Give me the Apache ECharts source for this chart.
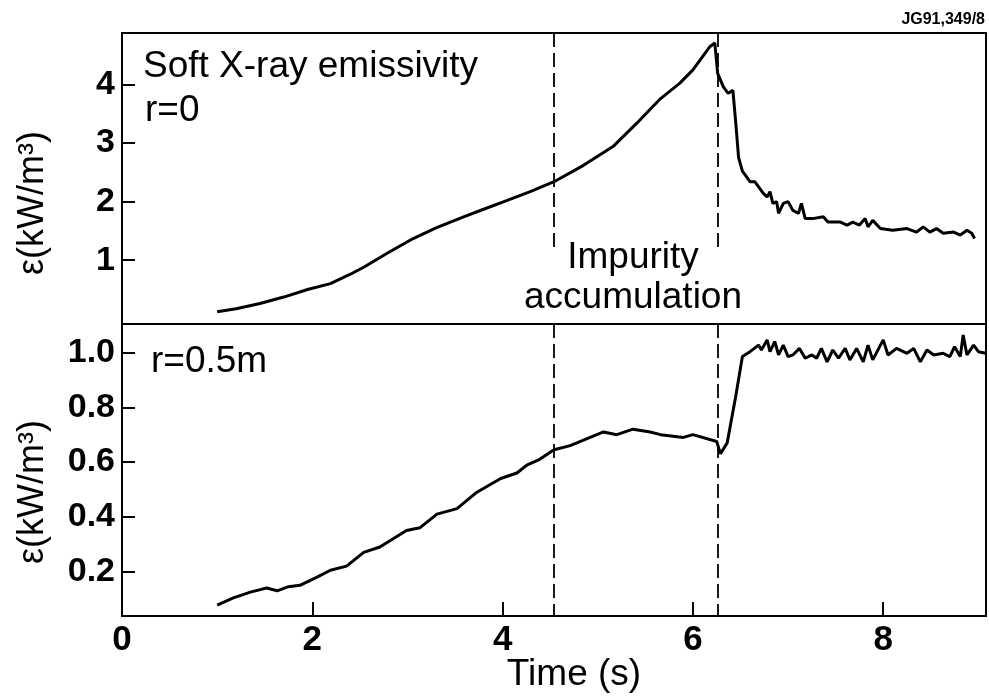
<!DOCTYPE html>
<html>
<head>
<meta charset="utf-8">
<script src="https://cdn.jsdelivr.net/npm/echarts@6/dist/echarts.min.js"></script>
<style>html,body{margin:0;padding:0;background:#fff}#c{width:989px;height:699px}</style>
</head>
<body>
<div id="c"></div>
<script>
// ---- data ----
const timeCore = [1.00,1.20,1.45,1.70,1.95,2.19,2.40,2.54,2.80,3.06,3.30,3.59,3.80,4.00,4.29,4.54,4.85,5.16,5.41,5.66,5.86,6.00,6.18,6.23,6.26,6.32,6.37,6.42,6.45,6.48,6.52,6.60,6.65,6.70,6.74,6.78,6.81,6.84,6.88,6.90,6.95,7.00,7.05,7.11,7.14,7.18,7.26,7.37,7.42,7.55,7.62,7.68,7.75,7.81,7.84,7.89,7.97,8.10,8.25,8.35,8.42,8.49,8.56,8.63,8.74,8.81,8.88,8.93,8.96];
const emisCore = [0.12,0.17,0.26,0.37,0.50,0.60,0.76,0.88,1.13,1.37,1.55,1.74,1.87,1.99,2.17,2.34,2.62,2.94,3.34,3.76,4.02,4.25,4.65,4.71,4.19,3.96,3.85,3.90,3.35,2.75,2.52,2.34,2.34,2.23,2.14,2.08,2.17,1.97,2.00,1.80,1.97,2.00,1.85,1.80,1.97,1.71,1.71,1.74,1.65,1.65,1.60,1.65,1.60,1.71,1.57,1.68,1.54,1.51,1.54,1.48,1.57,1.48,1.54,1.46,1.48,1.43,1.51,1.46,1.37];

const timeHalf = [1.00,1.17,1.35,1.52,1.63,1.75,1.87,2.05,2.19,2.36,2.54,2.71,2.85,2.99,3.13,3.31,3.52,3.73,3.98,4.15,4.26,4.39,4.54,4.71,4.92,5.06,5.20,5.37,5.55,5.66,5.90,6.00,6.25,6.29,6.36,6.45,6.52,6.60,6.69,6.72,6.78,6.81,6.86,6.90,6.95,7.00,7.05,7.12,7.18,7.25,7.30,7.35,7.41,7.47,7.53,7.60,7.65,7.72,7.79,7.84,7.89,8.00,8.05,8.14,8.25,8.32,8.39,8.46,8.53,8.63,8.70,8.75,8.81,8.84,8.88,8.95,9.00,9.08];
const emisHalf = [0.078,0.104,0.125,0.14,0.13,0.145,0.15,0.18,0.205,0.22,0.27,0.29,0.32,0.35,0.36,0.41,0.43,0.49,0.54,0.56,0.59,0.61,0.645,0.66,0.69,0.71,0.70,0.72,0.71,0.70,0.69,0.70,0.675,0.63,0.67,0.84,0.985,1.003,1.027,1.009,1.046,1.003,1.040,0.991,1.027,0.985,0.991,1.015,0.979,0.991,0.979,1.015,0.966,1.009,0.979,1.015,0.973,1.015,0.966,1.027,0.973,1.046,0.991,1.015,0.997,1.015,0.966,1.009,0.991,0.997,0.985,1.021,0.985,1.064,0.991,1.027,1.003,0.997];

const eventTimes = [4.54, 6.26];
const xTicks = [0, 2, 4, 6, 8];
const yTicksCore = [1, 2, 3, 4];
const yTicksHalf = [0.2, 0.4, 0.6, 0.8, 1.0];
const xRange = [0, 9.08];
const yRangeCore = [-0.09, 4.88];
const yRangeHalf = [0.038, 1.104];
const coreDashFrom = 1.2;

// ---- chart ----
const FONT = '"Liberation Sans", Arial, Helvetica, sans-serif';
const chart = echarts.init(document.getElementById('c'), null, {renderer: 'canvas'});
const pairs = (xs, ys) => xs.map((x, i) => [x, ys[i]]);
const dashStyle = {color: '#000', width: 1.8, type: [14, 6]};

const axisLineStyle = {show: true, onZero: false, lineStyle: {color: '#000', width: 2}};

const option = {
  animation: false,
  backgroundColor: '#fff',
  grid: [
    {left: 122, top: 33, width: 864, height: 291, show: true, borderColor: '#000', borderWidth: 2, backgroundColor: 'transparent'},
    {left: 122, top: 324, width: 864, height: 292, show: true, borderColor: '#000', borderWidth: 2, backgroundColor: 'transparent'}
  ],
  xAxis: [
    {gridIndex: 0, type: 'value', min: xRange[0], max: xRange[1], axisLine: axisLineStyle,
     axisTick: {show: false}, axisLabel: {show: false}, splitLine: {show: false}},
    {gridIndex: 1, type: 'value', min: xRange[0], max: xRange[1], axisLine: axisLineStyle,
     axisTick: {show: true, inside: true, length: 14, lineStyle: {color: '#000', width: 2}, customValues: xTicks.filter(v => v > 0)},
     axisLabel: {show: true, customValues: xTicks, color: '#000', fontSize: 35, fontWeight: 'bold', fontFamily: FONT, margin: 7},
     splitLine: {show: false}}
  ],
  yAxis: [
    {gridIndex: 0, type: 'value', min: yRangeCore[0], max: yRangeCore[1], axisLine: axisLineStyle,
     axisTick: {show: true, inside: true, length: 13, lineStyle: {color: '#000', width: 2}, customValues: yTicksCore},
     axisLabel: {show: true, customValues: yTicksCore, color: '#000', fontSize: 34, fontWeight: 'bold', fontFamily: FONT, margin: 7},
     splitLine: {show: false}},
    {gridIndex: 1, type: 'value', min: yRangeHalf[0], max: yRangeHalf[1], axisLine: axisLineStyle,
     axisTick: {show: true, inside: true, length: 13, lineStyle: {color: '#000', width: 2}, customValues: yTicksHalf},
     axisLabel: {show: true, customValues: yTicksHalf, formatter: v => v.toFixed(1), color: '#000', fontSize: 34, fontWeight: 'bold', fontFamily: FONT, margin: 7},
     splitLine: {show: false}}
  ],
  series: [
    {type: 'line', xAxisIndex: 0, yAxisIndex: 0, data: pairs(timeCore, emisCore), showSymbol: false, symbol: 'none',
     lineStyle: {color: '#000', width: 3}, silent: true,
     markLine: {silent: true, symbol: ['none', 'none'], label: {show: false}, lineStyle: dashStyle,
       data: eventTimes.map(t => [{coord: [t, yRangeCore[1]]}, {coord: [t, coreDashFrom]}])}},
    {type: 'line', xAxisIndex: 1, yAxisIndex: 1, data: pairs(timeHalf, emisHalf), showSymbol: false, symbol: 'none',
     lineStyle: {color: '#000', width: 3}, silent: true,
     markLine: {silent: true, symbol: ['none', 'none'], label: {show: false}, lineStyle: dashStyle,
       data: eventTimes.map(t => [{coord: [t, yRangeHalf[1]]}, {coord: [t, yRangeHalf[0]]}])}}
  ],
  graphic: [
    {type: 'text', style: {x: 143, y: 67, text: 'Soft X-ray emissivity', fill: '#000', font: '37px ' + FONT, align: 'left', verticalAlign: 'middle'}},
    {type: 'text', style: {x: 145, y: 111, text: 'r=0', fill: '#000', font: '37px ' + FONT, align: 'left', verticalAlign: 'middle'}},
    {type: 'text', style: {x: 151, y: 362, text: 'r=0.5m', fill: '#000', font: '37px ' + FONT, align: 'left', verticalAlign: 'middle'}},
    {type: 'text', style: {x: 633, y: 258, text: 'Impurity', fill: '#000', font: '37px ' + FONT, align: 'center', verticalAlign: 'middle'}},
    {type: 'text', style: {x: 633, y: 298, text: 'accumulation', fill: '#000', font: '37px ' + FONT, align: 'center', verticalAlign: 'middle'}},
    {type: 'text', style: {x: 985, y: 20, text: 'JG91,349/8', fill: '#000', font: 'bold 16px ' + FONT, align: 'right', verticalAlign: 'middle'}},
    {type: 'text', x: 33, y: 203, rotation: Math.PI / 2, style: {x: 0, y: 0, text: 'ε(kW/m³)', fill: '#000', font: '36px ' + FONT, align: 'center', verticalAlign: 'middle'}},
    {type: 'text', x: 33, y: 492, rotation: Math.PI / 2, style: {x: 0, y: 0, text: 'ε(kW/m³)', fill: '#000', font: '36px ' + FONT, align: 'center', verticalAlign: 'middle'}},
    {type: 'text', style: {x: 574, y: 675, text: 'Time (s)', fill: '#000', font: '37px ' + FONT, align: 'center', verticalAlign: 'middle'}}
  ]
};
chart.setOption(option);
</script>
</body>
</html>
